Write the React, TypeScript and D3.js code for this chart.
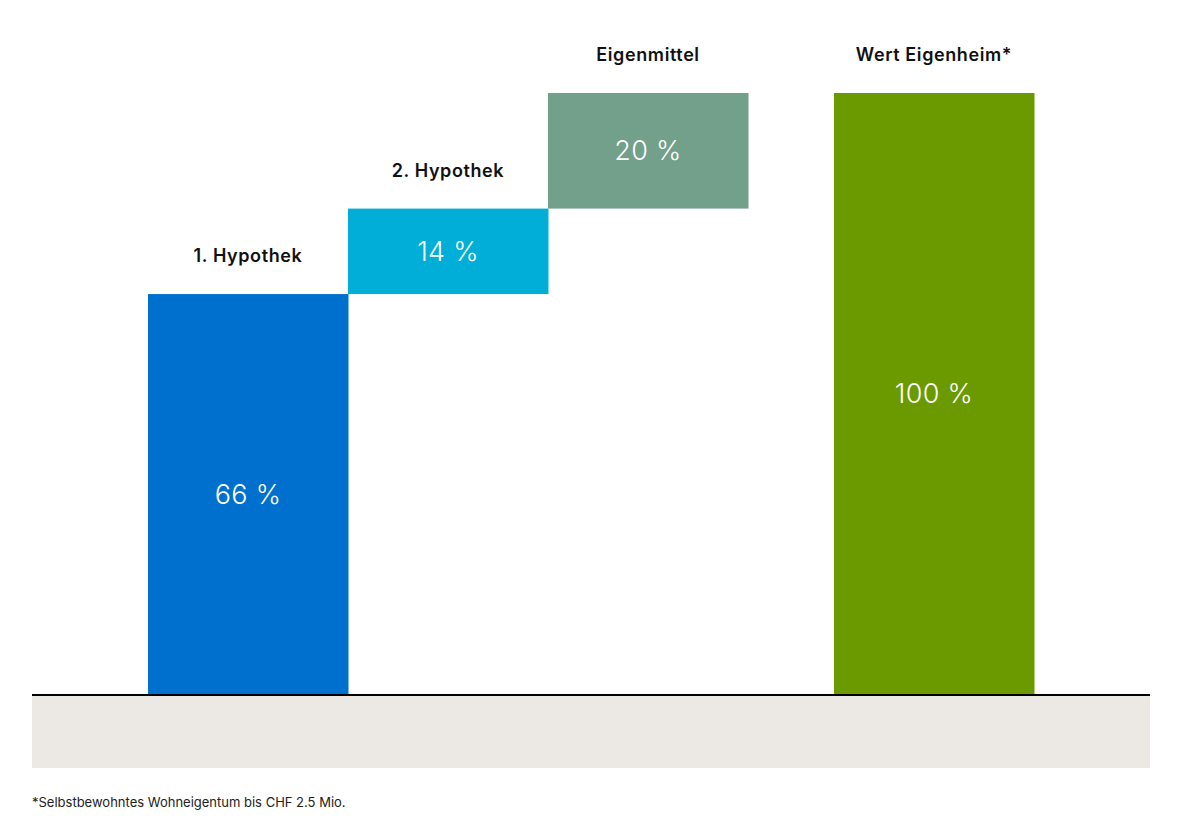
import React, { useEffect } from "react";
import * as d3 from "d3";

const width = 1183;
const height = 820;

// waterfall: financing parts stack up to the value of the home
const categories = ["1. Hypothek", "2. Hypothek", "Eigenmittel", "Wert Eigenheim*"];
const values = [66.6, 14.2, 19.2];
const total = 100;
const valueLabels = ["66 %", "14 %", "20 %", "100 %"];
const colors = ["#0070cf", "#00aed8", "#72a08a", "#6a9a00"];
const footnote = "*Selbstbewohntes Wohneigentum bis CHF 2.5 Mio.";

// slot index of each bar (the total bar sits a bit further right)
const slots = [0, 1, 2, 3.43];

const baseY = 695;
const topY = 93;
const barW = 200;

const y = d3.scaleLinear().domain([0, total]).range([baseY, topY]);
const x = d3.scaleLinear().domain([0, 1]).range([148, 148 + barW]);

type Bar = { name: string; y0: number; y1: number; label: string; color: string; slot: number };

let acc = 0;
const bars: Bar[] = categories.map((name, i) => {
  if (i < values.length) {
    const y0 = acc;
    acc += values[i];
    return { name, y0, y1: acc, label: valueLabels[i], color: colors[i], slot: slots[i] };
  }
  return { name, y0: 0, y1: total, label: valueLabels[i], color: colors[i], slot: slots[i] };
});

const font = "Inter, 'Liberation Sans', Arial, sans-serif";

const App = () => {
  useEffect(() => {
    document.body.style.margin = "0";
  }, []);

  return (
    <svg width={width} height={height} style={{ display: "block", background: "#fff" }} fontFamily={font}>
      <rect x={32} y={baseY} width={1118} height={73} fill="#ece9e4" />
      {bars.map((b) => {
        const x0 = x(b.slot);
        const cx = x0 + barW / 2;
        const top = y(b.y1);
        const bottom = y(b.y0);
        return (
          <g key={b.name}>
            <rect x={x0} y={top} width={barW + 0.5} height={bottom - top} fill={b.color} />
            <text
              x={cx}
              y={(top + bottom) / 2}
              dy="0.35em"
              textAnchor="middle"
              fill="#fff"
              fontSize={27}
              fontWeight={300}
              letterSpacing={0.3}
            >
              {b.label}
            </text>
            <text
              x={cx}
              y={top - 38}
              dy="0.35em"
              textAnchor="middle"
              fill="#111"
              fontSize={18}
              fontWeight={600}
              letterSpacing={0.6}
            >
              {b.name}
            </text>
          </g>
        );
      })}
      <line x1={32} x2={1150} y1={baseY} y2={baseY} stroke="#000" strokeWidth={2} />
      <text x={32} y={807} fontSize={13} fill="#222">
        {footnote}
      </text>
    </svg>
  );
};

export default App;
